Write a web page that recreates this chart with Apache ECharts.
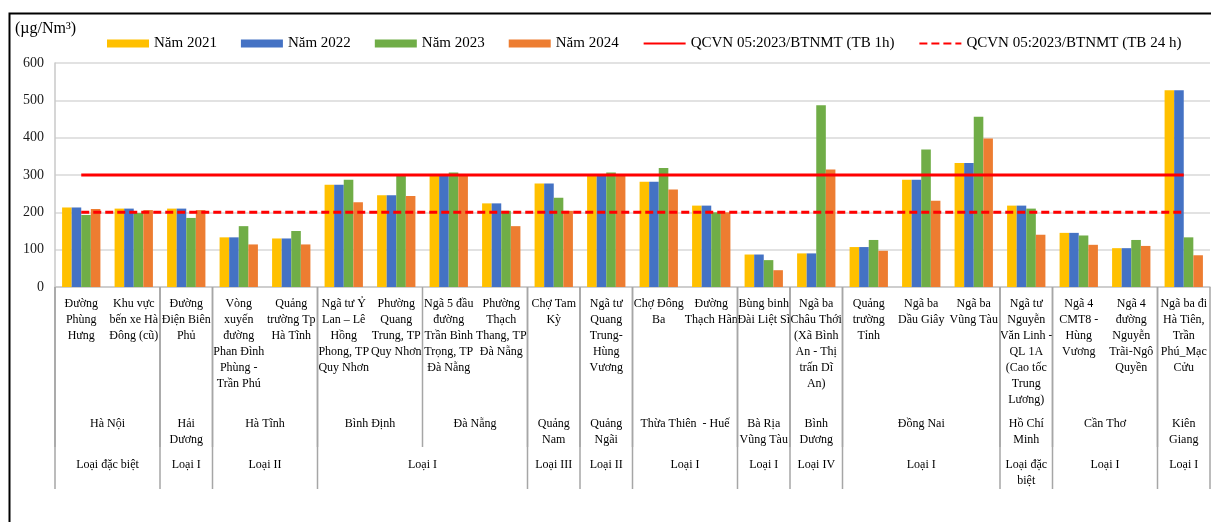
<!DOCTYPE html>
<html lang="vi">
<head>
    <meta charset="utf-8"/>
    <title>Bụi TSP tại các điểm quan trắc</title>
    <script src="https://cdn.jsdelivr.net/npm/echarts@6/dist/echarts.min.js"></script>
    <style>
        html, body { margin: 0; padding: 0; background: #fff; overflow: hidden; }
        #chart { width: 1211px; height: 522px; }
    </style>
</head>
<body>
<div id="chart"></div>
<script>
    // ten diem quan trac (cap 1)
    var stations = [
        'Đường\nPhùng\nHưng', 'Khu vực\nbến xe Hà\nĐông (cũ)', 'Đường\nĐiện Biên\nPhủ',
        'Vòng\nxuyến\nđường\nPhan Đình\nPhùng -\nTrần Phú', 'Quảng\ntrường Tp\nHà Tĩnh',
        'Ngã tư Ỷ\nLan – Lê\nHồng\nPhong, TP\nQuy Nhơn', 'Phường\nQuang\nTrung, TP\nQuy Nhơn',
        'Ngã 5 đầu\nđường\nTrần Bình\nTrọng, TP\nĐà Nẵng', 'Phường\nThạch\nThang, TP\nĐà Nẵng',
        'Chợ Tam\nKỳ', 'Ngã tư\nQuang\nTrung-\nHùng\nVương', 'Chợ Đông\nBa', 'Đường\nThạch Hãn',
        'Bùng binh\nĐài Liệt Sĩ', 'Ngã ba\nChâu Thới\n(Xã Bình\nAn - Thị\ntrấn Dĩ\nAn)',
        'Quảng\ntrường\nTỉnh', 'Ngã ba\nDầu Giây', 'Ngã ba\nVũng Tàu',
        'Ngã tư\nNguyễn\nVăn Linh -\nQL 1A\n(Cao tốc\nTrung\nLương)',
        'Ngã 4\nCMT8 -\nHùng\nVương', 'Ngã 4\nđường\nNguyễn\nTrãi-Ngô\nQuyền',
        'Ngã ba đi\nHà Tiên,\nTrần\nPhú_Mạc\nCửu'
    ];
    // tinh (cap 2) va so diem moi tinh
    var provinces = ['Hà Nội', 'Hải\nDương', 'Hà Tĩnh', 'Bình Định', 'Đà Nẵng', 'Quảng\nNam', 'Quảng\nNgãi',
        'Thừa Thiên  - Huế', 'Bà Rịa\nVũng Tàu', 'Bình\nDương', 'Đồng Nai', 'Hồ Chí\nMinh', 'Cần Thơ', 'Kiên\nGiang'];
    var provinceSpans = [2, 1, 2, 2, 2, 1, 1, 2, 1, 1, 3, 1, 2, 1];
    // loai do thi (cap 3)
    var classes = ['Loại đặc biệt', 'Loại I', 'Loại II', 'Loại I', 'Loại III', 'Loại II', 'Loại I', 'Loại I',
        'Loại IV', 'Loại I', 'Loại đặc\nbiệt', 'Loại I', 'Loại I'];
    var classSpans = [2, 1, 2, 4, 1, 1, 2, 1, 1, 3, 1, 2, 1];

    var y2021 = [213, 210, 210, 133, 130, 274, 246, 298, 224, 277, 298, 282, 218, 87, 90, 107, 287, 332, 218, 145, 104, 527];
    var y2022 = [213, 210, 210, 133, 130, 274, 246, 298, 224, 277, 298, 282, 218, 87, 90, 107, 287, 332, 218, 145, 104, 527];
    var y2023 = [193, 198, 185, 163, 150, 287, 297, 307, 204, 239, 307, 319, 200, 72, 487, 126, 368, 456, 210, 138, 126, 133];
    var y2024 = [209, 206, 206, 114, 114, 227, 244, 298, 163, 204, 298, 261, 200, 45, 315, 97, 231, 398, 140, 113, 110, 85];
    var qc1h = 300;   // QCVN TB 1h
    var qc24h = 200;  // QCVN TB 24h

    var font = 'Liberation Serif';
    var chart = echarts.init(document.getElementById('chart'));

    // chuyen spans -> [dau, cuoi, 0]
    function toRanges(spans) {
        var out = [], s = 0;
        for (var i = 0; i < spans.length; i++) {
            out.push([s, s + spans[i] - 1, 0]);
            s += spans[i];
        }
        return out;
    }
    function fill(v) {
        return stations.map(function () { return v; });
    }

    // ve nhan nhom va duong phan cach duoi truc x
    function groupRenderer(names, textTop, lineLen, lastRight) {
        return function (params, api) {
            var s = api.value(0), e = api.value(1);
            var p0 = api.coord([s, 0]);
            var p1 = api.coord([e, 0]);
            var w = api.size([1, 0])[0];
            var y0 = p0[1];
            var lineStyle = { stroke: '#a6a6a6', lineWidth: 1.5 };
            var children = [{
                type: 'text',
                style: {
                    x: (p0[0] + p1[0]) / 2, y: y0 + textTop,
                    text: names[params.dataIndex],
                    align: 'center', verticalAlign: 'top',
                    font: '12px "' + font + '"', lineHeight: 16, fill: '#000'
                }
            }, {
                type: 'line',
                shape: { x1: p0[0] - w / 2, y1: y0, x2: p0[0] - w / 2, y2: y0 + lineLen },
                style: lineStyle
            }];
            if (lastRight && params.dataIndex === names.length - 1) {
                children.push({
                    type: 'line',
                    shape: { x1: p1[0] + w / 2, y1: y0, x2: p1[0] + w / 2, y2: y0 + lineLen },
                    style: lineStyle
                });
            }
            return { type: 'group', children: children };
        };
    }

    var barBase = { type: 'bar', barGap: '0%', barCategoryGap: '27%' };

    var option = {
        animation: false,
        textStyle: { fontFamily: font },
        title: {
            text: '(µg/Nm³)', left: 10, top: 16,
            textStyle: { fontFamily: font, fontSize: 16, fontWeight: 'normal', color: '#000' }
        },
        graphic: [{
            type: 'rect', left: 7, top: 11, z: -10,
            shape: { width: 1300, height: 700 },
            style: { fill: 'none', stroke: '#000', lineWidth: 2 }
        }],
        legend: {
            left: 102, top: 31,
            itemWidth: 42, itemHeight: 8, itemGap: 24,
            textStyle: { fontFamily: font, fontSize: 15, color: '#000' },
            data: [
                { name: 'Năm 2021', icon: 'rect' },
                { name: 'Năm 2022', icon: 'rect' },
                { name: 'Năm 2023', icon: 'rect' },
                { name: 'Năm 2024', icon: 'rect' },
                { name: 'QCVN 05:2023/BTNMT (TB 1h)', itemStyle: { opacity: 0 } },
                { name: 'QCVN 05:2023/BTNMT (TB 24 h)', itemStyle: { opacity: 0 } }]
        },
        grid: { left: 55, right: 1, top: 63, bottom: 235 },
        xAxis: {
            type: 'category',
            data: stations,
            axisLine: { lineStyle: { color: '#c8c8c8', width: 1.5 } },
            axisTick: { show: false },
            axisLabel: {
                interval: 0, margin: 9, fontSize: 12, lineHeight: 16,
                color: '#000', fontFamily: font, verticalAlign: 'top'
            }
        },
        yAxis: {
            type: 'value', min: 0, max: 600, interval: 100,
            axisLine: { show: true, lineStyle: { color: '#c8c8c8', width: 1.5 } },
            axisTick: { show: false },
            axisLabel: { fontSize: 14, color: '#1a1a1a', margin: 11, fontFamily: font },
            splitLine: { lineStyle: { color: '#d9d9d9', width: 1.5 } }
        },
        series: [
            Object.assign({ name: 'Năm 2021', data: y2021, itemStyle: { color: '#FFC000' } }, barBase),
            Object.assign({ name: 'Năm 2022', data: y2022, itemStyle: { color: '#4472C4' } }, barBase),
            Object.assign({ name: 'Năm 2023', data: y2023, itemStyle: { color: '#70AD47' } }, barBase),
            Object.assign({ name: 'Năm 2024', data: y2024, itemStyle: { color: '#ED7D31' } }, barBase),
            {
                name: 'QCVN 05:2023/BTNMT (TB 1h)', type: 'line', data: fill(qc1h),
                symbol: 'none', showSymbol: false, z: 5,
                itemStyle: { color: '#FF0000' },
                lineStyle: { color: '#FF0000', width: 3 }
            },
            {
                name: 'QCVN 05:2023/BTNMT (TB 24 h)', type: 'line', data: fill(qc24h),
                symbol: 'none', showSymbol: false, z: 5,
                itemStyle: { color: '#FF0000' },
                lineStyle: { color: '#FF0000', width: 3, type: [8, 4] }
            },
            {
                type: 'custom', silent: true, clip: false,
                data: toRanges(provinceSpans),
                encode: { x: [0, 1], y: 2 },
                renderItem: groupRenderer(provinces, 129, 160, false)
            },
            {
                type: 'custom', silent: true, clip: false,
                data: toRanges(classSpans),
                encode: { x: [0, 1], y: 2 },
                renderItem: groupRenderer(classes, 170, 202, true)
            }
        ]
    };
    chart.setOption(option);
</script>
</body>
</html>
